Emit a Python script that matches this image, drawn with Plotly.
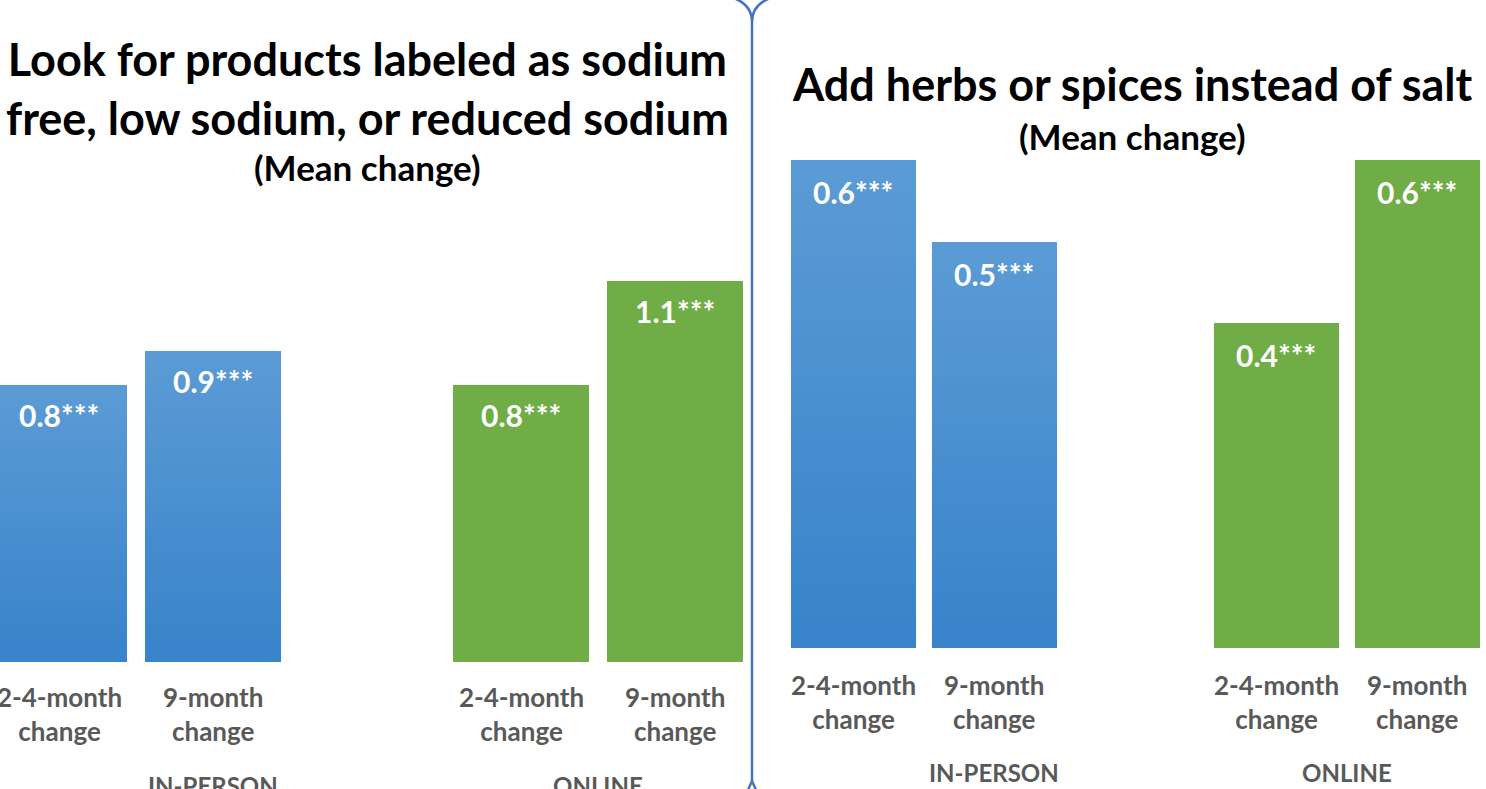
import plotly.graph_objects as go

W, H = 1486, 789

# ---- data -----------------------------------------------------------------
groups = ["IN-PERSON", "ONLINE"]
periods = ["2-4-month<br>change", "9-month<br>change"]

sodium_in_person = [0.8, 0.9]
sodium_online = [0.8, 1.1]
herbs_in_person = [0.6, 0.5]
herbs_online = [0.4, 0.6]

stars = "***"

title_sodium = "Look for products labeled as sodium<br>free, low sodium, or reduced sodium"
title_herbs = "Add herbs or spices instead of salt"
subtitle = "(Mean change)"

# ---- style ----------------------------------------------------------------
FONT = "Lato"
BLUE_TOP = (0x5B, 0x9B, 0xD5)
BLUE_BOTTOM = (0x38, 0x83, 0xCA)
GREEN = "#70AD47"
GREY = "#595959"
LINE_BLUE = "#4472C4"
N_SHADES = 40


def px(x):
    return x / W


def py(y):
    return 1 - y / H


def mix(c1, c2, t):
    return "rgb(%d,%d,%d)" % tuple(round(a + (b - a) * t) for a, b in zip(c1, c2))


def slot(g, p):
    # one empty slot between the two groups
    return g * 3 + p


fig = go.Figure()


def add_chart(values_by_group, xa, ya, bar_width, label_shift, tick_y, group_y):
    for g, vals in enumerate(values_by_group):
        xs = [slot(g, p) for p in range(len(vals))]
        if g == 0:
            # vertical gradient: light at the top, darker toward the base
            for k in range(N_SHADES):
                frac = 1 - k / N_SHADES
                fig.add_trace(go.Bar(
                    x=xs, y=[v * frac for v in vals], width=bar_width,
                    marker=dict(color=mix(BLUE_TOP, BLUE_BOTTOM, k / (N_SHADES - 1)),
                                line=dict(width=0)),
                    xaxis=xa, yaxis=ya, showlegend=False, hoverinfo="skip"))
        else:
            fig.add_trace(go.Bar(
                x=xs, y=vals, width=bar_width,
                marker=dict(color=GREEN, line=dict(width=0)),
                xaxis=xa, yaxis=ya, showlegend=False, hoverinfo="skip"))
        for p, (x, v) in enumerate(zip(xs, vals)):
            # value label near the top of the bar
            fig.add_annotation(
                x=x, y=v, xref=xa, yref=ya, text=f"{v:.1f}{stars}",
                showarrow=False, xanchor="center", yanchor="middle", yshift=label_shift,
                font=dict(family=FONT, size=30, color="white", weight="bold"))
            # category label under the bar
            fig.add_annotation(
                x=x, y=py(tick_y), xref=xa, yref="paper", text=periods[p],
                showarrow=False, xanchor="center", yanchor="middle",
                font=dict(family=FONT, size=26, color=GREY, weight="bold"))
        # group label
        gx = slot(g, 1) if g == 0 else slot(g, 0.5)
        fig.add_annotation(
            x=gx, y=py(group_y), xref=xa, yref="paper", text=groups[g],
            showarrow=False, xanchor="center", yanchor="middle",
            font=dict(family=FONT, size=24, color=GREY, weight="bold"))


add_chart([sodium_in_person, sodium_online], "x", "y", 136 / 154, -30, 714, 785)
add_chart([herbs_in_person, herbs_online], "x2", "y2", 125 / 141, -32, 702, 772)

axis_common = dict(visible=False, showgrid=False, zeroline=False, fixedrange=True)

fig.update_layout(
    width=W, height=H, autosize=False,
    margin=dict(l=0, r=0, t=0, b=0),
    paper_bgcolor="white", plot_bgcolor="white",
    barmode="overlay", bargap=0,
    xaxis=dict(domain=[0, px(752)], range=[-59 / 154, (752 - 59) / 154],
               anchor="y", **axis_common),
    yaxis=dict(domain=[py(662), 1], range=[0, 662 / 346], anchor="x", **axis_common),
    xaxis2=dict(domain=[px(752), 1], range=[-(853 - 752) / 141, (1486 - 853) / 141],
                anchor="y2", **axis_common),
    yaxis2=dict(domain=[py(648), 1], range=[0, 648 / 813], anchor="x2", **axis_common),
)

# titles
fig.add_annotation(x=px(367), y=py(88), xref="paper", yref="paper",
                   text=title_sodium, showarrow=False, xanchor="center", yanchor="middle",
                   font=dict(family=FONT, size=45, color="black", weight="bold"))
fig.add_annotation(x=px(367), y=py(167), xref="paper", yref="paper",
                   text=subtitle, showarrow=False, xanchor="center", yanchor="middle",
                   font=dict(family=FONT, size=35, color="black", weight="bold"))
fig.add_annotation(x=px(1132), y=py(84), xref="paper", yref="paper",
                   text=title_herbs, showarrow=False, xanchor="center", yanchor="middle",
                   font=dict(family=FONT, size=45, color="black", weight="bold"))
fig.add_annotation(x=px(1132), y=py(136), xref="paper", yref="paper",
                   text=subtitle, showarrow=False, xanchor="center", yanchor="middle",
                   font=dict(family=FONT, size=35, color="black", weight="bold"))

# divider between the two panels
xm = 752
divider = (
    f"M {px(736)},{py(-1)} Q {px(xm)},{py(6)} {px(xm)},{py(22)} "
    f"M {px(768)},{py(-1)} Q {px(xm)},{py(6)} {px(xm)},{py(22)} "
    f"L {px(xm)},{py(781)} L {px(748)},{py(790)} "
    f"M {px(xm)},{py(781)} L {px(756)},{py(790)}"
)
fig.add_shape(type="path", path=divider, xref="paper", yref="paper",
              line=dict(color=LINE_BLUE, width=2.5), layer="above")

fig.write_html("out.html")
